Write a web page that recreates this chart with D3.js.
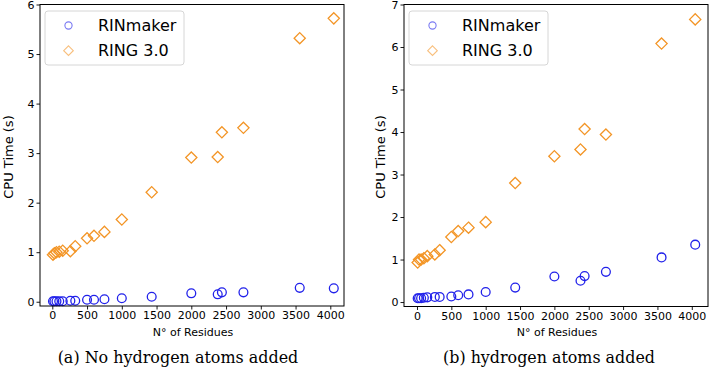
<!DOCTYPE html>
<html><head><meta charset="utf-8">
<script src="https://cdn.jsdelivr.net/npm/d3@7"></script>
<style>body{margin:0;background:#fff}svg{display:block}</style>
</head><body>
<svg id="c" width="709" height="379"></svg>
<script>
// Data
const residues = [10, 30, 60, 100, 150, 260, 330, 500, 600, 750, 1000, 1430, 2000, 2380, 2440, 2750, 3560, 4050];
const rinmakerNoH = [0.01, 0.01, 0.01, 0.01, 0.01, 0.02, 0.02, 0.04, 0.04, 0.05, 0.07, 0.10, 0.17, 0.15, 0.19, 0.19, 0.28, 0.27];
const ringNoH     = [0.95, 0.98, 1.00, 1.01, 1.03, 1.02, 1.12, 1.28, 1.33, 1.41, 1.66, 2.21, 2.91, 2.92, 3.42, 3.51, 5.32, 5.72];
const rinmakerH   = [0.09, 0.09, 0.09, 0.10, 0.11, 0.12, 0.12, 0.13, 0.16, 0.18, 0.235, 0.34, 0.60, 0.50, 0.61, 0.71, 1.05, 1.35];
const ringH       = [0.93, 1.00, 1.00, 1.03, 1.08, 1.12, 1.22, 1.53, 1.67, 1.75, 1.88, 2.80, 3.43, 3.59, 4.07, 3.94, 6.08, 6.65];
const xTicks = [0, 500, 1000, 1500, 2000, 2500, 3000, 3500, 4000];
const yTicksA = [0, 1, 2, 3, 4, 5, 6];
const yTicksB = [0, 1, 2, 3, 4, 5, 6, 7];
const seriesNames = ["RINmaker", "RING 3.0"];
const xLabel = "N° of Residues";
const yLabel = "CPU Time (s)";
const captions = ["(a) No hydrogen atoms added", "(b) hydrogen atoms added"];

const BLUE = "#2121ea", ORANGE = "#f39526";
const svg = d3.select("#c");
const sans = "DejaVu Sans";

function diamondPath(s){ return `M0,${-s}L${s},0L0,${s}L${-s},0Z`; }

function panel(cfg){
  const g = svg.append("g");
  const x = d3.scaleLinear().domain(cfg.xd).range([cfg.x0, cfg.x1]);
  const y = d3.scaleLinear().domain(cfg.yd).range([cfg.y1, cfg.y0]);

  const xa = g.append("g").attr("transform", `translate(0,${cfg.y1})`)
    .call(d3.axisBottom(x).tickValues(xTicks).tickSize(3.5).tickPadding(2).tickFormat(d3.format("d")));
  const ya = g.append("g").attr("transform", `translate(${cfg.x0},0)`)
    .call(d3.axisLeft(y).tickValues(cfg.yt).tickSize(3.5).tickPadding(2).tickFormat(d3.format("d")));
  [xa, ya].forEach(a => {
    a.select(".domain").remove();
    a.selectAll("text").attr("font-family", sans).attr("font-size", 11).attr("fill", "#000");
    a.selectAll("line").attr("stroke", "#000").attr("stroke-width", 0.9);
  });

  // markers
  g.append("g").selectAll("path").data(residues.map((r,i)=>[r,cfg.ring[i]])).join("path")
    .attr("d", diamondPath(5.6))
    .attr("transform", d => `translate(${x(d[0])},${y(d[1])})`)
    .attr("fill", "none").attr("stroke", ORANGE).attr("stroke-width", 1.3);
  g.append("g").selectAll("circle").data(residues.map((r,i)=>[r,cfg.rin[i]])).join("circle")
    .attr("cx", d => x(d[0])).attr("cy", d => y(d[1])).attr("r", 4.4)
    .attr("fill", "none").attr("stroke", BLUE).attr("stroke-width", 1.3);

  // frame
  g.append("rect").attr("x", cfg.x0).attr("y", cfg.y0)
    .attr("width", cfg.x1 - cfg.x0).attr("height", cfg.y1 - cfg.y0)
    .attr("fill", "none").attr("stroke", "#000").attr("stroke-width", 1);

  // legend
  const lx = cfg.lx;
  g.append("rect").attr("x", lx).attr("y", 11).attr("width", 139).attr("height", 54)
    .attr("rx", 3).attr("fill", "#fff").attr("fill-opacity", 0.8)
    .attr("stroke", "#d6d6d6").attr("stroke-width", 1);
  g.append("circle").attr("cx", lx + 23.5).attr("cy", 25.5).attr("r", 3.6)
    .attr("fill", "none").attr("stroke", BLUE).attr("stroke-opacity", 0.6).attr("stroke-width", 1.1);
  g.append("path").attr("d", diamondPath(4.8)).attr("transform", `translate(${lx + 23.5},50.7)`)
    .attr("fill", "none").attr("stroke", ORANGE).attr("stroke-opacity", 0.6).attr("stroke-width", 1.1);
  g.selectAll("text.leg").data(seriesNames).join("text").attr("class", "leg")
    .attr("x", lx + 53).attr("y", (d,i) => i ? 56.3 : 30.7)
    .attr("font-family", sans).attr("font-size", 16).attr("fill", "#000").text(d => d);

  // axis labels
  g.append("text").attr("x", (cfg.x0 + cfg.x1)/2 + 1).attr("y", 335.5).attr("text-anchor", "middle")
    .attr("font-family", sans).attr("font-size", 11).attr("fill", "#000").text(xLabel);
  g.append("text").attr("transform", `translate(${cfg.ylx},157) rotate(-90)`).attr("text-anchor", "middle")
    .attr("dy", "0.35em").attr("font-family", sans).attr("font-size", 13).attr("fill", "#000").text(yLabel);

  // caption
  const cap = g.append("text").attr("x", cfg.capx).attr("y", 363).attr("text-anchor", "middle")
    .attr("font-family", "DejaVu Serif").attr("font-size", 15).attr("fill", "#000").text(cfg.cap);
  const w = cap.node().getComputedTextLength();
  cap.attr("font-size", 15 * cfg.capw / w);
}

panel({x0:40, x1:344, y0:4.5, y1:306, xd:[-177, 4197], yd:[-0.086, 6], yt:yTicksA,
       rin:rinmakerNoH, ring:ringNoH, lx:45, ylx:8, capx:178, capw:241, cap:captions[0]});
panel({x0:404, x1:708, y0:4.5, y1:306.5, xd:[-189, 4236], yd:[-0.105, 7], yt:yTicksB,
       rin:rinmakerH, ring:ringH, lx:409, ylx:380, capx:549, capw:212, cap:captions[1]});
</script>
</body></html>
